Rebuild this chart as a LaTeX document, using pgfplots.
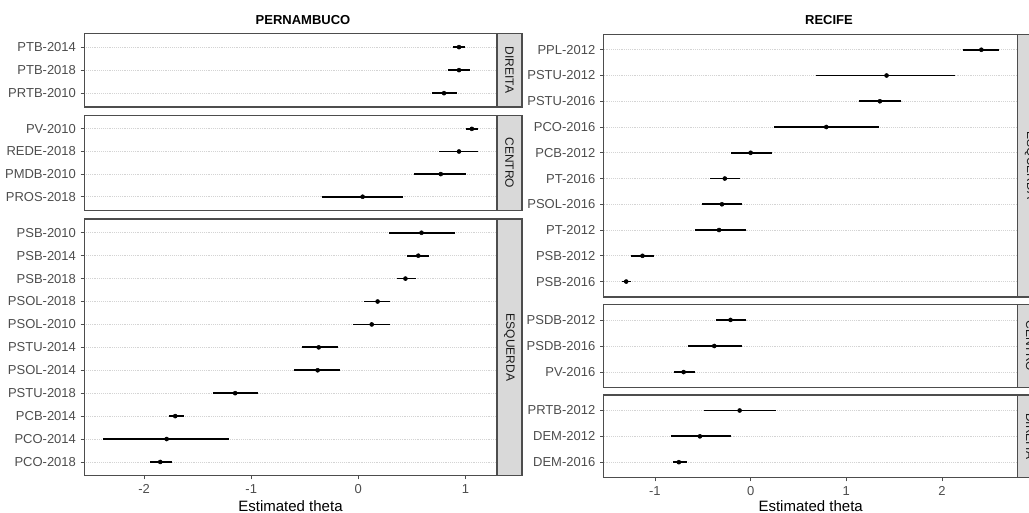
\documentclass[border=0pt]{standalone}
\usepackage{pgfplots}
\pgfplotsset{compat=1.18}
\usepackage{pgfplotstable}
\usepackage{fontspec}
\setmainfont{Liberation Sans}
\definecolor{panelborder}{HTML}{4D4D4D}
\definecolor{stripfill}{HTML}{D9D9D9}
\definecolor{ticktext}{HTML}{4D4D4D}
\definecolor{striptext}{HTML}{1A1A1A}
\definecolor{gridcol}{HTML}{D4D4D4}

% PERNAMBUCO
\pgfplotstableread{
row name x lo hi
1 PTB-2014 0.94 0.88 1.00
2 PTB-2018 0.94 0.84 1.04
3 PRTB-2010 0.80 0.69 0.92
}\LD
\pgfplotstableread{
row name x lo hi
1 PV-2010 1.06 1.01 1.12
2 REDE-2018 0.94 0.755 1.12
3 PMDB-2010 0.77 0.52 1.01
4 PROS-2018 0.04 -0.34 0.42
}\LC
\pgfplotstableread{
row name x lo hi
1 PSB-2010 0.59 0.29 0.90
2 PSB-2014 0.56 0.45 0.66
3 PSB-2018 0.44 0.36 0.54
4 PSOL-2018 0.18 0.05 0.30
5 PSOL-2010 0.125 -0.05 0.30
6 PSTU-2014 -0.37 -0.53 -0.19
7 PSOL-2014 -0.38 -0.60 -0.17
8 PSTU-2018 -1.15 -1.36 -0.94
9 PCB-2014 -1.71 -1.77 -1.63
10 PCO-2014 -1.79 -2.38 -1.21
11 PCO-2018 -1.85 -1.95 -1.74
}\LE
% RECIFE
\pgfplotstableread{
row name x lo hi
1 PPL-2012 2.41 2.22 2.59
2 PSTU-2012 1.42 0.685 2.14
3 PSTU-2016 1.35 1.13 1.57
4 PCO-2016 0.79 0.24 1.34
5 PCB-2012 0.00 -0.21 0.22
6 PT-2016 -0.27 -0.42 -0.115
7 PSOL-2016 -0.30 -0.51 -0.09
8 PT-2012 -0.33 -0.58 -0.05
9 PSB-2012 -1.13 -1.245 -1.01
10 PSB-2016 -1.30 -1.34 -1.25
}\RE
\pgfplotstableread{
row name x lo hi
1 PSDB-2012 -0.21 -0.36 -0.05
2 PSDB-2016 -0.38 -0.65 -0.09
3 PV-2016 -0.70 -0.80 -0.58
}\RC
\pgfplotstableread{
row name x lo hi
1 PRTB-2012 -0.115 -0.49 0.27
2 DEM-2012 -0.53 -0.83 -0.21
3 DEM-2016 -0.75 -0.81 -0.67
}\RD

\pgfplotsset{
  panel/.style={
    scale only axis, anchor=north west,
    y dir=reverse,
    axis line style={draw=panelborder, line width=0.8pt},
    tick align=outside, major tick length=2.75pt,
    tick style={draw=panelborder, line width=0.6pt},
    xtick pos=lower, ytick pos=left,
    ymajorgrids, grid style={densely dotted, draw=gridcol, line width=0.6pt},
    ytick=data,
    yticklabel style={font=\fontsize{9.75}{11}\selectfont, text=ticktext},
    xticklabel style={font=\fontsize{9.75}{11}\selectfont, text=ticktext},
    clip=false,
  },
  nobottom/.style={xtick=\empty},
  leftx/.style={xmin=-2.559, xmax=1.295, at={(63.225pt,-#1)}},
  rightx/.style={xmin=-1.535, xmax=2.79, at={(452.775pt,-#1)}},
  est/.style={only marks, mark=*, mark size=1.5pt, black,
    error bars/.cd, x dir=both, x explicit,
    error bar style={line width=1.3pt, black}, error mark=none},
}
\newcommand{\est}[1]{\addplot[est] table[x=x, y=row,
   x error plus expr=\thisrow{hi}-\thisrow{x},
   x error minus expr=\thisrow{x}-\thisrow{lo}] {#1};}

\begin{document}
\begin{tikzpicture}
% left
\begin{axis}[panel, nobottom, leftx=24.975pt, width=309.525pt, height=55.275pt,
  ymin=0.4, ymax=3.6, yticklabels from table={\LD}{name}, name=LD]
\est{\LD}
\end{axis}
\begin{axis}[panel, nobottom, leftx=86.475pt, width=309.525pt, height=71.25pt,
  ymin=0.4, ymax=4.6, yticklabels from table={\LC}{name}, name=LC]
\est{\LC}
\end{axis}
\begin{axis}[panel, leftx=164.25pt, width=309.525pt, height=192.525pt,
  ymin=0.4, ymax=11.6, yticklabels from table={\LE}{name}, name=LE,
  xtick={-2,-1,0,1}, xticklabels={-2,-1,0,1}]
\est{\LE}
\end{axis}
% right
\begin{axis}[panel, nobottom, rightx=25.725pt, width=310.5pt, height=197.025pt,
  ymin=0.4, ymax=10.6, yticklabels from table={\RE}{name}, name=RE]
\est{\RE}
\end{axis}
\begin{axis}[panel, nobottom, rightx=228.225pt, width=310.5pt, height=62.55pt,
  ymin=0.4, ymax=3.6, yticklabels from table={\RC}{name}, name=RC]
\est{\RC}
\end{axis}
\begin{axis}[panel, rightx=296.25pt, width=310.5pt, height=62.025pt,
  ymin=0.4, ymax=3.6, yticklabels from table={\RD}{name}, name=RD,
  xtick={-1,0,1,2}, xticklabels={-1,0,1,2}]
\est{\RD}
\end{axis}
% strips
\foreach \n/\lab in {LD/DIREITA, LC/CENTRO, LE/ESQUERDA, RE/ESQUERDA, RC/CENTRO, RD/DIREITA}{
  \draw[fill=stripfill, draw=panelborder, line width=0.8pt] (\n.north east) rectangle ([xshift=18.75pt]\n.south east);
  \node[rotate=-90, font=\fontsize{9}{10}\selectfont, text=striptext] at ([xshift=9.375pt]\n.east) {\lab};
}
% titles
\node[anchor=base, font=\fontsize{9.75}{11}\selectfont\bfseries] at (227.25pt,-18.75pt) {PERNAMBUCO};
\node[anchor=base, font=\fontsize{9.75}{11}\selectfont\bfseries] at (621.75pt,-18.75pt) {RECIFE};
\node[anchor=base, font=\fontsize{11.25}{13}\selectfont] at (217.875pt,-383.4pt) {Estimated theta};
\node[anchor=base, font=\fontsize{11.25}{13}\selectfont] at (608.0pt,-383.4pt) {Estimated theta};
\pgfresetboundingbox
\path[use as bounding box] (0pt,0pt) rectangle (771.75pt,-384.75pt);
\end{tikzpicture}
\end{document}
